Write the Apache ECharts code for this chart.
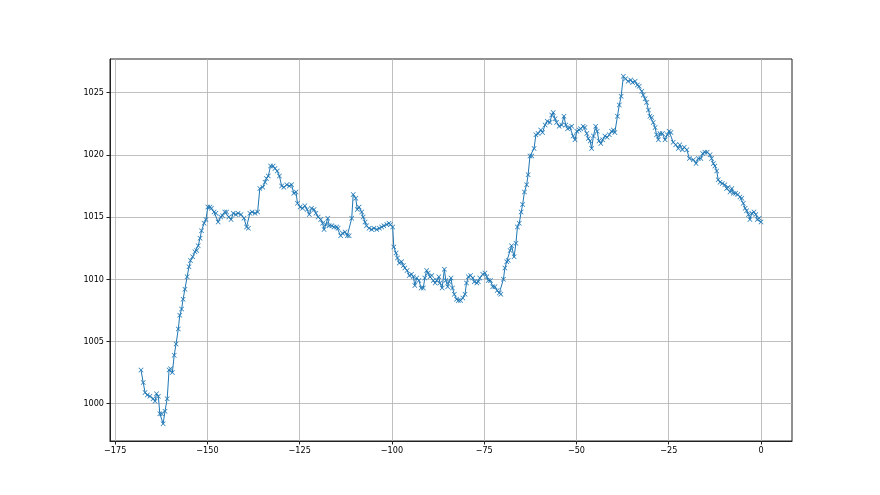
<!DOCTYPE html>
<html>
<head>
<meta charset="utf-8">
<title>pressure</title>
<script src="https://cdn.jsdelivr.net/npm/echarts@6/dist/echarts.min.js"></script>
<style>
	html, body { margin: 0; padding: 0; background: #fff; }
	#chart { width: 880px; height: 495px; }
</style>
</head>
<body>
<div id="chart"></div>
<script>
	// hours before now (x) and pressure in hPa (y)
	const hours = [
		-168.0, -167.4, -166.9, -166.3, -165.6, -164.7, -164.2, -163.8, -163.3, -162.9,
		-162.4, -162.0, -161.5, -160.9, -160.4, -160.0, -159.5, -159.0, -158.5, -157.9,
		-157.5, -157.0, -156.6, -156.1, -155.5, -155.0, -154.6, -154.0, -153.4, -152.9,
		-152.5, -152.0, -151.6, -150.9, -150.4, -149.9, -149.3, -148.9, -148.2, -147.7,
		-147.1, -146.4, -145.9, -145.3, -144.8, -144.2, -143.6, -143.0, -142.3, -141.7,
		-140.9, -140.1, -139.4, -138.9, -138.5, -137.9, -137.1, -136.4,
		-135.8, -135.0, -134.4, -134.0, -133.5, -132.9, -132.2, -131.7, -131.1, -130.5,
		-129.9, -129.3, -128.5, -127.8, -127.2, -126.6, -126.0, -125.6, -124.9, -124.2,
		-123.6, -123.0, -122.4, -121.8, -121.1, -120.6, -120.0, -119.3, -118.8, -118.4,
		-117.9, -117.4, -117.0, -116.3, -115.7, -115.0, -114.6, -113.9, -113.4, -112.7,
		-112.1, -111.6, -110.9, -110.5, -109.8, -109.4, -108.9, -108.2, -107.8, -107.3,
		-106.9, -106.2, -105.5, -104.9, -104.1, -103.4, -102.8, -102.2, -101.4, -100.8,
		-100.4, -99.8,
		-99.5, -98.9, -98.5, -98.0, -97.4, -96.9, -96.5, -95.9, -95.3, -94.7,
		-94.2, -93.8, -93.3, -92.7, -92.1, -91.5, -91.1, -90.6, -90.2, -89.7,
		-89.2, -88.8, -88.3, -87.9, -87.3, -87.0, -86.4, -85.8, -85.4, -84.9,
		-84.5, -84.0, -83.6, -83.1, -82.5, -82.0, -81.4, -80.8, -80.2, -79.8,
		-79.3, -78.7, -78.1, -77.7, -77.0, -76.6, -76.2, -75.4, -74.8, -74.3,
		-73.9, -73.3, -72.7, -72.1, -71.5, -70.9,
		-70.5, -69.8, -69.4, -68.9, -68.5, -68.0, -67.6, -66.9, -66.4, -66.0,
		-65.5, -65.0, -64.6, -64.1, -63.5, -63.1, -62.6, -62.1, -61.5, -61.0,
		-60.4, -59.7, -59.2, -58.5, -57.9, -57.2, -56.7, -56.3, -55.8, -55.4,
		-54.7, -54.0, -53.4, -52.9, -52.4, -51.8, -51.3, -50.9, -50.4, -49.9,
		-49.3, -48.9, -48.2, -47.7, -47.2, -46.8, -46.3, -45.9, -45.4, -44.8,
		-44.4, -43.9, -43.4, -42.9, -42.3, -41.7, -41.1, -40.5, -40.0, -39.6,
		-38.9, -38.4,
		-37.9, -37.3, -36.7, -36.0, -35.3, -34.8, -34.1, -33.5, -33.0, -32.3,
		-31.9, -31.4, -31.0, -30.5, -30.1, -29.6, -29.2, -28.7, -28.3, -27.8,
		-27.4, -26.7, -26.0, -25.4, -24.9, -24.4, -23.8, -23.1, -22.4, -22.0,
		-21.3, -20.8, -20.1, -19.4,
		-18.3, -17.6, -17.0, -16.3, -15.8, -15.2, -14.6, -13.8, -13.4, -12.9,
		-12.5, -12.0, -11.6, -11.1, -10.5, -9.8, -9.3, -8.9, -8.4, -7.9,
		-7.5, -6.9, -6.3, -5.7, -5.2, -4.8, -4.3, -3.9, -3.4, -3.0,
		-2.5, -1.9, -1.4, -1.0, -0.5, 0
	]
	const pressure = [
		1002.7, 1001.7, 1000.9, 1000.7, 1000.6, 1000.4, 1000.2, 1000.8, 1000.6, 999.2,
		999.2, 998.4, 999.4, 1000.4, 1002.7, 1002.8, 1002.5, 1003.9, 1004.8, 1006.0,
		1007.1, 1007.6, 1008.4, 1009.2, 1010.2, 1011.0, 1011.5, 1011.8, 1012.2, 1012.3,
		1012.7, 1013.3, 1013.9, 1014.5, 1014.8, 1015.8, 1015.8, 1015.7, 1015.4, 1015.3,
		1014.6, 1015.0, 1015.1, 1015.4, 1015.4, 1015.0, 1014.8, 1015.3, 1015.2, 1015.3,
		1015.2, 1014.9, 1014.2, 1014.1, 1015.3, 1015.4, 1015.3, 1015.4,
		1017.3, 1017.4, 1017.8, 1018.1, 1018.3, 1019.1, 1019.1, 1018.9, 1018.7, 1018.3,
		1017.5, 1017.4, 1017.6, 1017.5, 1017.6, 1016.9, 1017.0, 1016.1, 1015.8, 1015.7,
		1015.9, 1015.6, 1015.2, 1015.7, 1015.6, 1015.3, 1015.0, 1014.8, 1014.5, 1014.0,
		1014.4, 1014.9, 1014.3, 1014.3, 1014.2, 1014.2, 1014.1, 1013.5, 1013.7, 1013.8,
		1013.5, 1013.5, 1014.9, 1016.8, 1016.5, 1015.6, 1015.8, 1015.4, 1015.0, 1014.6,
		1014.3, 1014.1, 1014.0, 1014.1, 1014.0, 1014.1, 1014.2, 1014.3, 1014.4, 1014.5,
		1014.4, 1014.2,
		1012.6, 1012.1, 1011.7, 1011.3, 1011.4, 1011.1, 1010.9, 1010.7, 1010.3, 1010.4,
		1010.2, 1009.5, 1010.1, 1009.9, 1009.3, 1009.3, 1010.1, 1010.7, 1010.5, 1010.2,
		1010.3, 1009.9, 1009.7, 1009.9, 1010.2, 1009.7, 1009.3, 1010.8, 1009.9, 1009.4,
		1009.8, 1010.1, 1009.3, 1008.8, 1008.4, 1008.3, 1008.3, 1008.5, 1008.8, 1009.7,
		1010.2, 1010.3, 1010.1, 1009.8, 1009.7, 1009.8, 1010.1, 1010.4, 1010.5, 1010.2,
		1009.9, 1009.9, 1009.4, 1009.4, 1009.1, 1008.9,
		1008.8, 1010.0, 1010.9, 1011.4, 1011.5, 1012.3, 1012.7, 1011.8, 1012.9, 1014.2,
		1014.5, 1015.4, 1016.0, 1017.0, 1017.6, 1018.4, 1019.9, 1019.9, 1020.5, 1021.6,
		1021.7, 1022.0, 1021.8, 1022.4, 1022.7, 1022.6, 1023.2, 1023.4, 1022.9, 1022.6,
		1022.3, 1022.4, 1023.1, 1022.4, 1022.1, 1022.2, 1022.3, 1021.5, 1021.2, 1021.9,
		1022.0, 1022.1, 1022.3, 1022.2, 1021.7, 1021.3, 1021.1, 1020.5, 1021.5, 1022.3,
		1021.9, 1021.1, 1020.9, 1021.2, 1021.5, 1021.4, 1021.6, 1021.9, 1022.0, 1021.8,
		1023.1, 1024.0,
		1024.7, 1026.3, 1026.1, 1025.9, 1026.0, 1025.8, 1025.9, 1025.6, 1025.5, 1025.1,
		1024.8, 1024.5, 1024.2, 1023.6, 1023.1, 1023.0, 1022.6, 1022.2, 1021.6, 1021.2,
		1021.7, 1021.7, 1021.2, 1021.6, 1021.9, 1021.8, 1021.0, 1020.8, 1020.5, 1020.8,
		1020.4, 1020.6, 1020.4, 1019.7,
		1019.6, 1019.3, 1019.7, 1019.7, 1020.1, 1020.2, 1020.2, 1020.0, 1019.7, 1019.3,
		1019.1, 1018.7, 1018.0, 1017.8, 1017.7, 1017.6, 1017.3, 1017.4, 1017.0, 1017.3,
		1016.9, 1016.9, 1016.8, 1016.6, 1016.5, 1016.1, 1015.7, 1015.5, 1015.2, 1014.8,
		1015.3, 1015.4, 1015.2, 1014.8, 1014.9, 1014.6
	]
	const xTicks = [-175, -150, -125, -100, -75, -50, -25, 0]
	const yTicks = [1000, 1005, 1010, 1015, 1020, 1025]

	const n = Math.min(hours.length, pressure.length)
	const points = []
	for (let i = 0; i < n; i++) {
		points.push([hours[i], pressure[i]])
	}

	// matplotlib-like 5% margins around the data
	const xPad = (0 - -168) * 0.05
	const yMin = Math.min(...pressure), yMax = Math.max(...pressure)
	const yPad = (yMax - yMin) * 0.05

	const labelFont = {
		color: '#000',
		fontSize: 9,
		fontFamily: '"DejaVu Sans Condensed", "Liberation Sans Narrow", "DejaVu Sans", sans-serif'
	}
	// plain numbers, with a real minus sign like matplotlib
	const tickText = v => String(v).replace('-', '\u2212')
	// "x" marker as a filled cross
	const xMarker = 'path://M0,1L1,0L5,4L9,0L10,1L6,5L10,9L9,10L5,6L1,10L0,9L4,5Z'

	const chart = echarts.init(document.getElementById('chart'), null, { renderer: 'canvas' })
	const option = {
		animation: false,
		backgroundColor: '#fff',
		grid: {
			left: 110,
			right: 88,
			top: 59,
			bottom: 54,
			show: true,
			borderColor: '#222',
			borderWidth: 1,
			containLabel: false
		},
		xAxis: {
			type: 'value',
			min: -168 - xPad,
			max: 0 + xPad,
			minInterval: 25,
			maxInterval: 25,
			axisLine: { show: true, onZero: false, lineStyle: { color: '#222', width: 1 } },
			axisTick: { show: true, length: 3.5, lineStyle: { color: '#222' }, customValues: xTicks },
			axisLabel: Object.assign({ margin: 5, customValues: xTicks, formatter: tickText }, labelFont),
			splitLine: { show: true, lineStyle: { color: '#b0b0b0', width: 0.8 } }
		},
		yAxis: {
			type: 'value',
			min: yMin - yPad,
			max: yMax + yPad,
			minInterval: 5,
			maxInterval: 5,
			axisLine: { show: true, onZero: false, lineStyle: { color: '#222', width: 1 } },
			axisTick: { show: true, length: 3.5, lineStyle: { color: '#222' }, customValues: yTicks },
			axisLabel: Object.assign({ margin: 6, customValues: yTicks, formatter: tickText }, labelFont),
			splitLine: { show: true, lineStyle: { color: '#b0b0b0', width: 0.8 } }
		},
		series: [{
			type: 'line',
			data: points,
			symbol: xMarker,
			symbolSize: 5,
			showAllSymbol: true,
			itemStyle: { color: '#1f77b4' },
			lineStyle: { color: '#1f77b4', width: 1 }
		}]
	}
	chart.setOption(option)
</script>
</body>
</html>
